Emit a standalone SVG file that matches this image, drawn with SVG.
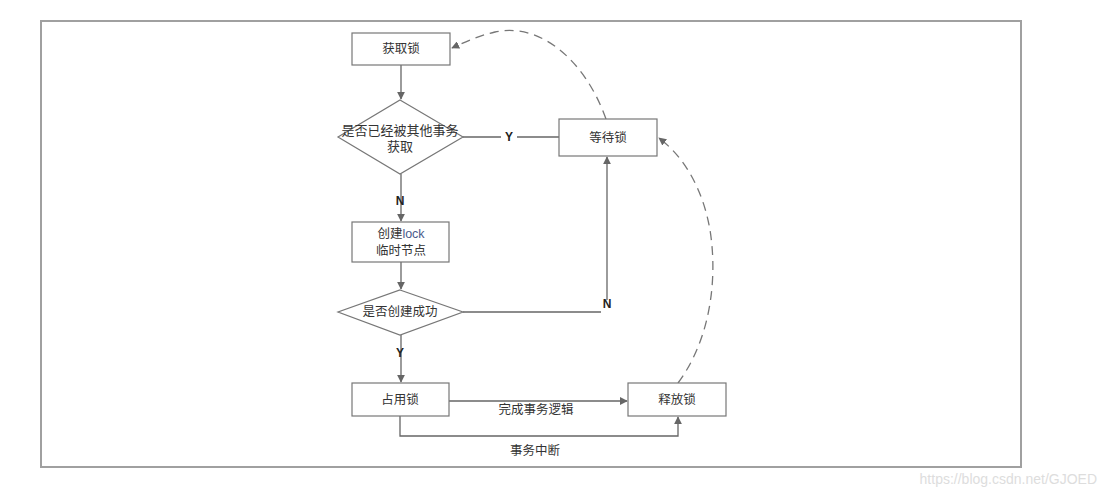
<svg xmlns="http://www.w3.org/2000/svg" width="1107" height="499" viewBox="0 0 1107 499">
<style>
.n{fill:#fff;stroke:#777;stroke-width:1.2}
.t{font-family:"Liberation Sans","Noto Sans CJK SC",sans-serif;font-size:12.5px;fill:#333;text-anchor:middle;dominant-baseline:central}
.b{font-weight:bold;font-size:12px;fill:#222}
.c{fill:none;stroke:#666;stroke-width:1.3}
.d{fill:none;stroke:#777;stroke-width:1.3;stroke-dasharray:9,6}
</style>
<defs>
<marker id="a" viewBox="0 0 10 10" refX="9" refY="5" markerWidth="8" markerHeight="8" orient="auto" markerUnits="userSpaceOnUse"><path d="M0,0L10,5L0,10z" fill="#666"/></marker>
</defs>
<rect x="0" y="0" width="1107" height="499" fill="#fff"/>
<rect x="41" y="21" width="980" height="446" fill="#fff" stroke="#a0a0a0" stroke-width="2"/>
<g id="connectors">
<path class="c" d="M401,65V99" marker-end="url(#a)"/>
<path class="c" d="M463,137H559"/>
<path class="c" d="M401,174V221" marker-end="url(#a)"/>
<path class="c" d="M401,262V289" marker-end="url(#a)"/>
<path class="c" d="M463,312H601"/>
<path class="c" d="M607,300V157" marker-end="url(#a)"/>
<path class="c" d="M401,335V382" marker-end="url(#a)"/>
<path class="c" d="M449,401H627" marker-end="url(#a)"/>
<path class="c" d="M400,416V436H678V417" marker-end="url(#a)"/>
<path class="d" d="M606,119C585,60 540,22 495,32C478,36 465,42 452,48" marker-end="url(#a)"/>
<path class="d" d="M678,383C710,340 718,280 710,230C704,195 688,160 659,138" marker-end="url(#a)"/>
<rect x="501" y="131" width="16" height="13" fill="#fff"/>
<text class="t b" x="509" y="137">Y</text>
<text class="t b" x="400" y="201">N</text>
<text class="t b" x="607" y="304">N</text>
<text class="t b" x="400" y="353">Y</text>
<text class="t" x="536" y="410">完成事务逻辑</text>
<text class="t" x="535" y="451">事务中断</text>
</g>
<g id="n1"><rect class="n" x="352" y="33" width="98" height="32"/><text class="t" x="401" y="49">获取锁</text></g>
<g id="n2"><polygon class="n" points="400,100 463,137 400,174 338,137"/><text class="t" x="400" y="130" style="font-size:13px">是否已经被其他事务</text><text class="t" x="400" y="146" style="font-size:13px">获取</text></g>
<g id="n3"><rect class="n" x="559" y="119" width="98" height="37"/><text class="t" x="608" y="138">等待锁</text></g>
<g id="n4"><rect class="n" x="352" y="222" width="97" height="40"/><text class="t" x="401" y="234">创建<tspan fill="#4a5a8a">lock</tspan></text><text class="t" x="401" y="251">临时节点</text></g>
<g id="n5"><polygon class="n" points="400,290 463,312 400,335 338,312"/><text class="t" x="400" y="312">是否创建成功</text></g>
<g id="n6"><rect class="n" x="352" y="383" width="97" height="33"/><text class="t" x="400" y="400">占用锁</text></g>
<g id="n7"><rect class="n" x="628" y="383" width="98" height="33"/><text class="t" x="677" y="400">释放锁</text></g>
<text x="1097" y="484" font-family="Liberation Sans,sans-serif" font-size="14" fill="#ddd" text-anchor="end">https://blog.csdn.net/GJOED</text>
</svg>
